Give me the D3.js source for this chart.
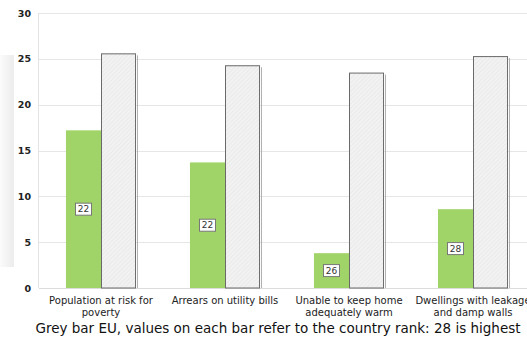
<!DOCTYPE html>
<html>
<head>
<meta charset="utf-8">
<script src="https://cdn.jsdelivr.net/npm/d3@7"></script>
<style>
  body { margin: 0; background: #fff; }
  svg { display: block; font-family: "DejaVu Sans", Verdana, sans-serif; }
</style>
</head>
<body>
<div id="chart"></div>
<script>
const categories = [
  ["Population at risk for", "poverty"],
  ["Arrears on utility bills"],
  ["Unable to keep home", "adequately warm"],
  ["Dwellings with leakage", "and damp walls"]
];
const countryValues = [17.2, 13.7, 3.8, 8.6];
const euValues = [25.6, 24.3, 23.5, 25.3];
const countryRanks = [22, 22, 26, 28];
const yTicks = [0, 5, 10, 15, 20, 25, 30];
const caption = "Grey bar EU, values on each bar refer to the country rank: 28 is highest";

const width = 527, height = 338;
const margin = {left: 39, top: 13, bottom: 50};
const plotRight = 535;

const svg = d3.select("#chart").append("svg")
  .attr("width", width)
  .attr("height", height);

const defs = svg.append("defs");
const grad = defs.append("linearGradient").attr("id", "shade");
grad.append("stop").attr("offset", "0%").attr("stop-color", "#fbfbfb");
grad.append("stop").attr("offset", "100%").attr("stop-color", "#ececec");
const hatch = defs.append("pattern")
  .attr("id", "hatch")
  .attr("patternUnits", "userSpaceOnUse")
  .attr("width", 3).attr("height", 3)
  .attr("patternTransform", "rotate(45)");
hatch.append("rect").attr("width", 3).attr("height", 3).attr("fill", "#f2f2f2");
hatch.append("line").attr("x1", 0).attr("y1", 0).attr("x2", 0).attr("y2", 3)
  .attr("stroke", "#e2e2e2").attr("stroke-width", 1);

// faint panel behind the axis
svg.append("rect")
  .attr("x", 0).attr("y", 55).attr("width", 14).attr("height", 212)
  .attr("fill", "url(#shade)");

const x = d3.scaleBand()
  .domain(d3.range(categories.length))
  .range([margin.left, plotRight])
  .paddingInner(0.435)
  .paddingOuter(0.2175);

const y = d3.scaleLinear()
  .domain([0, 30])
  .range([height - margin.bottom, margin.top]);

// grid
svg.append("g").selectAll("line")
  .data(yTicks.filter(d => d > 0))
  .enter().append("line")
    .attr("x1", margin.left).attr("x2", width)
    .attr("y1", d => Math.round(y(d)) + 0.5).attr("y2", d => Math.round(y(d)) + 0.5)
    .attr("stroke", "#e6e6e6");

svg.append("line")
  .attr("x1", margin.left - 0.5).attr("x2", margin.left - 0.5)
  .attr("y1", y(30)).attr("y2", y(0))
  .attr("stroke", "#e3e3e3");
svg.append("line")
  .attr("x1", margin.left).attr("x2", width)
  .attr("y1", Math.round(y(0)) + 0.5).attr("y2", Math.round(y(0)) + 0.5)
  .attr("stroke", "#dcdcdc");

// y axis labels
const yAxis = d3.axisLeft(y).tickValues(yTicks).tickSize(0).tickPadding(8);
const gy = svg.append("g")
  .attr("transform", `translate(${margin.left},0)`)
  .call(yAxis);
gy.select(".domain").remove();
gy.selectAll("text")
  .attr("font-family", "DejaVu Sans, Verdana, sans-serif")
  .attr("font-size", 9.5)
  .attr("font-weight", "bold")
  .attr("fill", "#222");

const bw = x.bandwidth() / 2;

// green bars
svg.append("g").selectAll("rect")
  .data(countryValues)
  .enter().append("rect")
    .attr("x", (d, i) => x(i))
    .attr("y", d => y(d))
    .attr("width", bw)
    .attr("height", d => y(0) - y(d))
    .attr("fill", "#a1d468");

// EU bars
svg.append("g").selectAll("rect")
  .data(euValues)
  .enter().append("rect")
    .attr("x", (d, i) => x(i) + bw + 0.5)
    .attr("y", d => y(d) + 0.5)
    .attr("width", bw - 1)
    .attr("height", d => y(0) - y(d) - 0.5)
    .attr("fill", "url(#hatch)")
    .attr("stroke", "#6a6a6a")
    .attr("stroke-width", 1);

svg.append("g").selectAll("line")
  .data(euValues)
  .enter().append("line")
    .attr("x1", (d, i) => x(i) + 2 * bw + 1.5)
    .attr("x2", (d, i) => x(i) + 2 * bw + 1.5)
    .attr("y1", d => y(d) + 2)
    .attr("y2", y(0))
    .attr("stroke", "#b0b0b0");

// rank labels
const labels = svg.append("g").selectAll("g")
  .data(countryRanks)
  .enter().append("g")
    .attr("transform", (d, i) => `translate(${x(i) + bw / 2},${(y(countryValues[i]) + y(0)) / 2})`);
labels.append("rect")
  .attr("x", -8).attr("y", -6).attr("width", 16).attr("height", 12)
  .attr("fill", "#fff").attr("stroke", "#777");
labels.append("text")
  .attr("text-anchor", "middle")
  .attr("dy", "0.36em")
  .attr("font-size", 9)
  .attr("fill", "#333")
  .text(d => d);

// category labels
const cat = svg.append("g").selectAll("text")
  .data(categories)
  .enter().append("text")
    .attr("x", (d, i) => x(i) + x.bandwidth() / 2)
    .attr("y", 303.5)
    .attr("text-anchor", "middle")
    .attr("font-size", 10)
    .attr("fill", "#222");
cat.selectAll("tspan")
  .data(d => d)
  .enter().append("tspan")
    .attr("x", function() { return this.parentNode.getAttribute("x"); })
    .attr("dy", (d, i) => i === 0 ? 0 : 12.5)
    .text(d => d);

svg.append("text")
  .attr("x", 278)
  .attr("y", 333)
  .attr("text-anchor", "middle")
  .attr("font-size", 13.5)
  .attr("fill", "#111")
  .text(caption);
</script>
</body>
</html>
